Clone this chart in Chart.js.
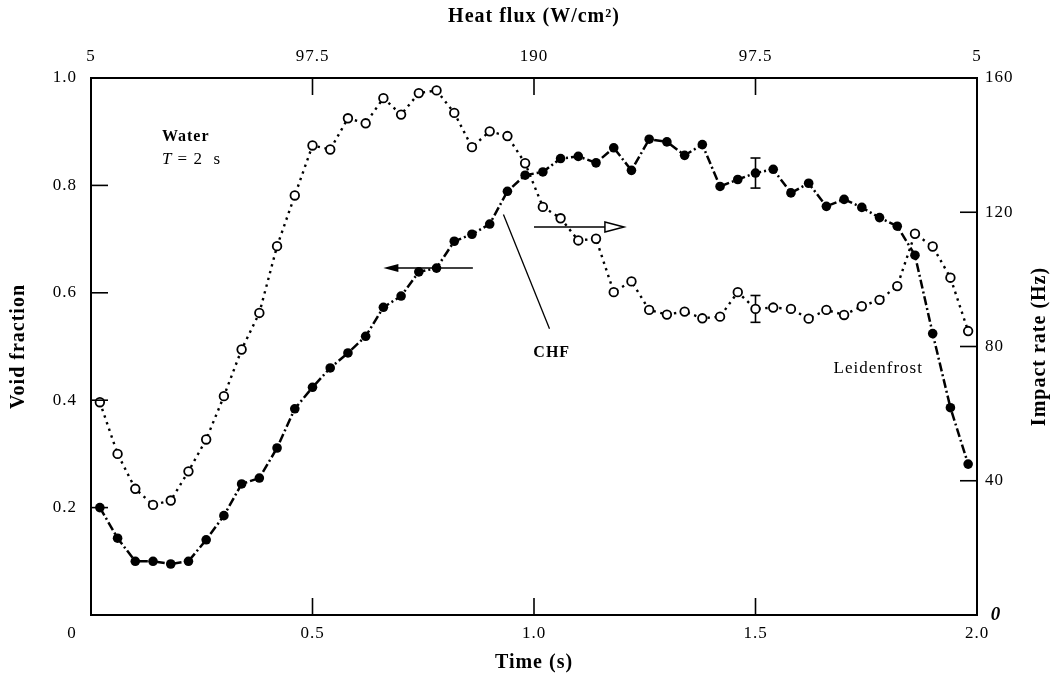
<!DOCTYPE html>
<html>
<head>
<meta charset="utf-8">
<script src="https://cdn.jsdelivr.net/npm/chart.js@4.4.1/dist/chart.umd.min.js"></script>
<style>
  html, body { margin: 0; padding: 0; background: #fff; }
</style>
</head>
<body>
<canvas id="myChart" width="1053" height="683"></canvas>
<script>
// time of each sample (s)
const times = [0.02, 0.06, 0.10, 0.14, 0.18, 0.22, 0.26, 0.30, 0.34, 0.38,
               0.42, 0.46, 0.50, 0.54, 0.58, 0.62, 0.66, 0.70, 0.74, 0.78,
               0.82, 0.86, 0.90, 0.94, 0.98, 1.02, 1.06, 1.10, 1.14, 1.18,
               1.22, 1.26, 1.30, 1.34, 1.38, 1.42, 1.46, 1.50, 1.54, 1.58,
               1.62, 1.66, 1.70, 1.74, 1.78, 1.82, 1.86, 1.90, 1.94, 1.98];
// filled circles, left axis
const voidFraction = [0.200, 0.143, 0.100, 0.100, 0.095, 0.100, 0.140, 0.185, 0.244, 0.255,
                      0.311, 0.384, 0.424, 0.460, 0.488, 0.519, 0.573, 0.594, 0.639, 0.646,
                      0.696, 0.709, 0.728, 0.789, 0.819, 0.825, 0.850, 0.854, 0.842, 0.870,
                      0.828, 0.886, 0.881, 0.856, 0.876, 0.798, 0.811, 0.823, 0.830, 0.786,
                      0.804, 0.761, 0.774, 0.759, 0.740, 0.724, 0.670, 0.524, 0.386, 0.281];
// open circles, right axis (Hz)
const impactRate = [63.4, 48.0, 37.6, 32.8, 34.1, 42.8, 52.3, 65.2, 79.1, 90.0,
                    109.9, 125.0, 139.9, 138.7, 148.0, 146.5, 154.0, 149.1, 155.5, 156.3,
                    149.6, 139.4, 144.1, 142.7, 134.6, 121.6, 118.2, 111.6, 112.1, 96.2,
                    99.4, 90.9, 89.5, 90.4, 88.4, 88.9, 96.2, 91.2, 91.6, 91.2,
                    88.3, 90.9, 89.4, 92.0, 93.9, 98.0, 113.6, 109.8, 100.5, 84.6];

const timeTicks = [0, 0.5, 1.0, 1.5, 2.0];
const timeLabels = ['0', '0.5', '1.0', '1.5', '2.0'];
const fluxLabels = ['5', '97.5', '190', '97.5', '5'];
const voidTicks = [0, 0.2, 0.4, 0.6, 0.8, 1.0];
const rateTicks = [0, 40, 80, 120, 160];

// error bars at t = 1.5 s
const errTime = 1.5;
const voidErr = 0.028;
const rateErr = 4;

const serif = "'Liberation Serif', 'DejaVu Serif', serif";

function line(ctx, x1, y1, x2, y2) {
    ctx.beginPath();
    ctx.moveTo(x1, y1);
    ctx.lineTo(x2, y2);
    ctx.stroke();
}

const overlay = {
    id: 'overlay',
    beforeDraw(chart) {
        chart.ctx.letterSpacing = '1px';
    },
    beforeDatasetsDraw(chart) {
        const {ctx, scales: {x, y, y2}} = chart;
        ctx.save();
        ctx.strokeStyle = '#000';
        ctx.lineWidth = 1.6;
        const px = x.getPixelForValue(errTime);
        const i = times.indexOf(errTime);
        // void fraction error bar
        let top = y.getPixelForValue(voidFraction[i] + voidErr);
        let bot = y.getPixelForValue(voidFraction[i] - voidErr);
        line(ctx, px, top, px, bot);
        line(ctx, px - 5, top, px + 5, top);
        line(ctx, px - 5, bot, px + 5, bot);
        // impact rate error bar
        top = y2.getPixelForValue(impactRate[i] + rateErr);
        bot = y2.getPixelForValue(impactRate[i] - rateErr);
        line(ctx, px, top, px, bot);
        line(ctx, px - 5, top, px + 5, top);
        line(ctx, px - 5, bot, px + 5, bot);
        ctx.restore();
    },
    afterDraw(chart) {
        const {ctx, chartArea: a, scales: {x, x2, y, y2}} = chart;
        ctx.save();
        ctx.strokeStyle = '#000';
        ctx.fillStyle = '#000';
        ctx.lineWidth = 1.6;

        // inward tick marks
        const len = 17;
        timeTicks.slice(1, -1).forEach(v => {
            const p = x.getPixelForValue(v);
            line(ctx, p, a.bottom, p, a.bottom - len);
            const q = x2.getPixelForValue(v);
            line(ctx, q, a.top, q, a.top + len);
        });
        voidTicks.slice(1, -1).forEach(v => {
            const p = y.getPixelForValue(v);
            line(ctx, a.left, p, a.left + len, p);
        });
        rateTicks.slice(1, -1).forEach(v => {
            const p = y2.getPixelForValue(v);
            line(ctx, a.right, p, a.right - len, p);
        });

        // arrow to the left axis (filled head)
        ctx.lineWidth = 1.5;
        let ay = y.getPixelForValue(0.646);
        let ax1 = x.getPixelForValue(0.862), ax2 = x.getPixelForValue(0.66);
        line(ctx, ax1, ay, ax2 + 10, ay);
        ctx.beginPath();
        ctx.moveTo(ax2, ay);
        ctx.lineTo(ax2 + 15, ay - 4);
        ctx.lineTo(ax2 + 15, ay + 4);
        ctx.closePath();
        ctx.fill();

        // arrow to the right axis (open head)
        ay = y2.getPixelForValue(115.6);
        ax1 = x.getPixelForValue(1.0);
        ax2 = x.getPixelForValue(1.203);
        line(ctx, ax1, ay, ax2 - 19, ay);
        ctx.beginPath();
        ctx.moveTo(ax2, ay);
        ctx.lineTo(ax2 - 19, ay - 5);
        ctx.lineTo(ax2 - 19, ay + 5);
        ctx.closePath();
        ctx.stroke();

        // CHF pointer
        ctx.lineWidth = 1.3;
        line(ctx, x.getPixelForValue(0.931), y.getPixelForValue(0.746),
                  x.getPixelForValue(1.035), y.getPixelForValue(0.533));

        // texts
        ctx.letterSpacing = '1px';
        ctx.textBaseline = 'middle';
        ctx.textAlign = 'left';
        ctx.font = 'bold 16px ' + serif;
        const tx = x.getPixelForValue(0.16);
        ctx.fillText('Water', tx, y.getPixelForValue(0.89));
        const ty = y.getPixelForValue(0.849);
        ctx.font = 'italic 17px ' + serif;
        ctx.fillText('T', tx, ty);
        const tw = ctx.measureText('T').width;
        ctx.font = '17px ' + serif;
        ctx.fillText(' = 2  s', tx + tw, ty);

        ctx.textAlign = 'center';
        ctx.font = 'bold 16px ' + serif;
        ctx.fillText('CHF', x.getPixelForValue(1.04), y.getPixelForValue(0.489));
        ctx.font = '17px ' + serif;
        ctx.fillText('Leidenfrost', x.getPixelForValue(1.777), y.getPixelForValue(0.459));

        // origin label
        ctx.font = '17px ' + serif;
        ctx.fillText('0', x.getPixelForValue(0) - 19, a.bottom + 19);

        // right axis title, reading upwards
        ctx.save();
        ctx.translate(1040, (a.top + a.bottom) / 2);
        ctx.rotate(-Math.PI / 2);
        ctx.font = 'bold 20px ' + serif;
        ctx.fillText('Impact rate (Hz)', 0, 0);
        ctx.restore();

        ctx.restore();
    }
};

const tickFont = {family: serif, size: 17};
const titleFont = {family: serif, size: 20, weight: 'bold'};
const border = {display: true, color: '#000', width: 2};
const noGrid = {display: false, drawTicks: false};

const data = {
    datasets: [{
        data: times.map((t, i) => ({x: t, y: voidFraction[i]})),
        xAxisID: 'x',
        yAxisID: 'y',
        borderColor: '#000',
        borderWidth: 2.5,
        borderDash: [9, 3, 2, 3],
        pointRadius: 4.8,
        pointBackgroundColor: '#000',
        pointBorderWidth: 0,
        tension: 0
    }, {
        data: times.map((t, i) => ({x: t, y: impactRate[i]})),
        xAxisID: 'x',
        yAxisID: 'y2',
        borderColor: '#000',
        borderWidth: 2.4,
        borderDash: [2.4, 4.6],
        pointRadius: 4.3,
        pointBackgroundColor: '#fff',
        pointBorderColor: '#000',
        pointBorderWidth: 1.8,
        tension: 0
    }]
};

const config = {
    type: 'line',
    data: data,
    options: {
        responsive: false,
        animation: false,
        layout: {padding: 0},
        plugins: {
            legend: {display: false},
            tooltip: {enabled: false}
        },
        scales: {
            x: {
                type: 'linear',
                position: 'bottom',
                min: 0,
                max: 2,
                grid: noGrid,
                border: border,
                afterFit: s => { s.height = 68; },
                afterBuildTicks: s => { s.ticks = timeTicks.map(v => ({value: v})); },
                ticks: {
                    padding: 8,
                    color: '#000',
                    font: tickFont,
                    maxRotation: 0,
                    callback: (v, i) => i === 0 ? '' : timeLabels[i]
                },
                title: {display: true, text: 'Time (s)', color: '#000', font: titleFont,
                        padding: {top: 0, bottom: 8}}
            },
            x2: {
                type: 'linear',
                position: 'top',
                min: 0,
                max: 2,
                grid: noGrid,
                border: border,
                afterFit: s => { s.height = 78; },
                afterBuildTicks: s => { s.ticks = timeTicks.map(v => ({value: v})); },
                ticks: {
                    padding: 11,
                    color: '#000',
                    font: tickFont,
                    maxRotation: 0,
                    callback: (v, i) => fluxLabels[i]
                },
                title: {display: true, text: 'Heat flux (W/cm²)', color: '#000', font: titleFont,
                        padding: {top: 5, bottom: 0}}
            },
            y: {
                position: 'left',
                min: 0,
                max: 1,
                grid: noGrid,
                border: border,
                afterFit: s => { s.width = 91; },
                afterBuildTicks: s => { s.ticks = voidTicks.map(v => ({value: v})); },
                ticks: {
                    padding: 14,
                    color: '#000',
                    font: tickFont,
                    callback: v => v === 0 ? '' : v.toFixed(1)
                },
                title: {display: true, text: 'Void fraction', color: '#000', font: titleFont,
                        padding: {top: 7, bottom: 0}}
            },
            y2: {
                position: 'right',
                min: 0,
                max: 160,
                grid: noGrid,
                border: border,
                afterFit: s => { s.width = 76; },
                afterBuildTicks: s => { s.ticks = rateTicks.map(v => ({value: v})); },
                ticks: {
                    padding: 8,
                    color: '#000',
                    font: c => (c.tick && c.tick.value === 0
                        ? {family: serif, size: 19, style: 'italic', weight: 'bold'}
                        : {family: serif, size: 17}),
                    callback: v => v === 0 ? ' 0' : String(v)
                },
                title: {display: false}
            }
        }
    },
    plugins: [overlay]
};

const myChart = new Chart(document.getElementById('myChart'), config);
</script>
</body>
</html>
